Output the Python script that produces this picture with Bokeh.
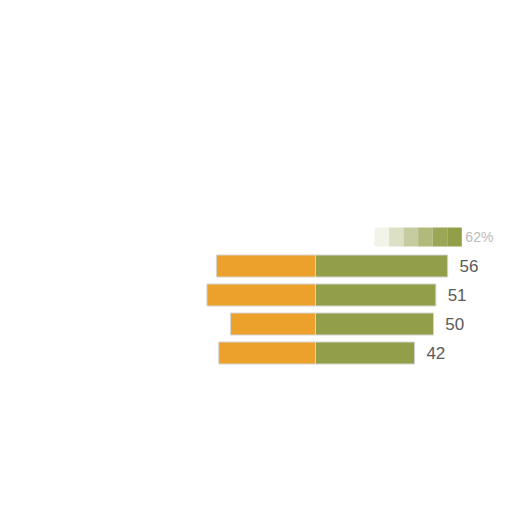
from bokeh.plotting import figure
from bokeh.models import Range1d, ColumnDataSource
from bokeh.embed import file_html
from bokeh.resources import INLINE
from bokeh.core.properties import value

# data (rows top to bottom, first row is the faded partial one)
rows = [1, 2, 3, 4]
neg_values = [42, 46, 36, 41]        # orange, left of centre
pos_values = [56, 51, 50, 42]        # green, right of centre
labels = ["56", "51", "50", "42"]

top_row = 0
top_value = 62
top_visible_start = 25
top_label = "62%"

ORANGE = "#EDA12D"
GREEN = "#939E48"

px_per_unit = 2.36
center_px = 315
W = H = 496
row0_px = 236.5
row_step = 29.0

p = figure(width=W, height=H, output_backend="svg", toolbar_location=None,
           min_border=0, min_border_left=0, min_border_right=0,
           min_border_top=0, min_border_bottom=0)
p.x_range = Range1d(-center_px / px_per_unit, (W - center_px) / px_per_unit)
p.y_range = Range1d((H - row0_px) / row_step, -row0_px / row_step)
p.axis.visible = False
p.grid.visible = False
p.outline_line_color = None
p.background_fill_color = "white"
p.border_fill_color = "white"

src = ColumnDataSource(dict(
    y=rows,
    left=[-v for v in neg_values],
    zero=[0] * len(rows),
    right=pos_values,
    lx=[v + 5 for v in pos_values],
    lab=labels,
))

bar_h = 22 / row_step
p.hbar(y="y", left="left", right="zero", height=bar_h, source=src,
       fill_color=ORANGE, line_color="#d4d4d4", line_width=1)
p.hbar(y="y", left="zero", right="right", height=bar_h, source=src,
       fill_color=GREEN, line_color="#d4d4d4", line_width=1)

# faded top row: fade in from the visible start to full colour
n = 6
span = top_value - top_visible_start
for i in range(n):
    a = top_visible_start + span * i / n
    b = top_visible_start + span * (i + 1) / n
    p.hbar(y=[top_row], left=[a], right=[b], height=19 / row_step,
           fill_color=GREEN, fill_alpha=min(1.0, 0.12 + 0.2 * i),
           line_color=None)

p.text(x="lx", y="y", text="lab", source=src, text_font=value("Liberation Sans"),
       text_font_size="17px", text_color="#5a5a5a", text_baseline="middle",
       text_align="left")
p.text(x=[top_value + 1.5], y=[top_row], text=[top_label],
       text_font=value("Liberation Sans"), text_font_size="14px",
       text_color="#bbbbbb", text_baseline="middle", text_align="left")

open("out.html", "w").write(file_html(p, INLINE))
